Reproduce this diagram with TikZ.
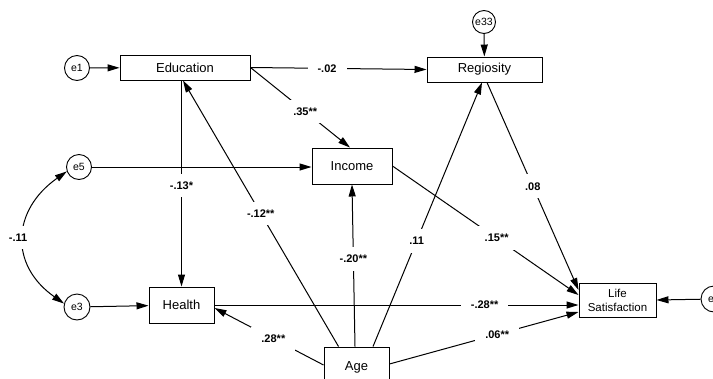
\documentclass[tikz,border=0pt]{standalone}
\usepackage{fontspec}
\setmainfont{Liberation Sans}
\usetikzlibrary{arrows.meta}
\begin{document}
\begin{tikzpicture}[x=1pt,y=-1pt,
  box/.style={draw, line width=0.95pt, inner sep=0pt, font=\fontsize{13}{15}\selectfont},
  err/.style={circle, draw, line width=0.9pt, minimum size=25pt, inner sep=0pt, font=\fontsize{10.5}{12}\selectfont},
  arr/.style={-{Triangle[length=12pt,width=7pt]}, line width=1pt},
  twoway/.style={{Triangle[length=12pt,width=7pt]}-{Triangle[length=12pt,width=7pt]}, line width=1pt},
  coef/.style={fill=white, font=\bfseries\fontsize{11}{13}\selectfont, inner xsep=10pt, inner ysep=8pt}
]
\useasboundingbox (0,0) rectangle (713,378);
\clip (0,0) rectangle (713,378);

% observed variables
\node[box, minimum width=130pt, minimum height=25pt] (edu) at (185,67.5) {Education};
\node[box, minimum width=115pt, minimum height=25pt] (reg) at (484.5,69.5) {Regiosity};
\node[box, minimum width=80pt, minimum height=36pt] (inc) at (352,166) {Income};
\node[box, minimum width=65pt, minimum height=36pt] (hea) at (181.5,305) {Health};
\node[box, minimum width=65pt, minimum height=40pt] (age) at (356.5,367) {Age};
\node[box, minimum width=77pt, minimum height=34pt, align=center,
      font=\fontsize{11.5}{14}\selectfont] (ls) at (617.5,300) {Life\\Satisfaction};

% error terms
\node[err] (e1) at (77,68) {e1};
\node[err, minimum size=23pt] (e33) at (484,22) {e33};
\node[err] (e5) at (79,167) {e5};
\node[err, minimum size=26pt] (e3) at (77,307) {e3};
\node[err, minimum size=26pt] (e2) at (714,299) {e\phantom{2}};

% residual paths
\draw[arr] (e1) -- (edu);
\draw[arr] (e33) -- (reg);
\draw[arr] (e5) -- (e5 -| inc.west);
\draw[arr] (e3) -- (hea);
\draw[arr] (e2) -- (ls.east);

% structural paths
\draw[arr] (edu.east) -- node[coef, pos=.435] {-.02} (reg.west);
\draw[arr] (edu.east) -- node[coef, pos=.55] {.35**} ([xshift=-2pt]inc.north);
\draw[arr] (edu.south -| hea.north) -- node[coef, pos=.51] {-.13*} (hea.north);
\draw[arr] ([xshift=15pt]age.north west) -- node[coef, pos=.5] {-.12**} ([xshift=-2pt]edu.south);
\draw[arr] ([xshift=-1.5pt]age.north) -- node[coef, pos=.54] {-.20**} (inc.south);
\draw[arr] ([xshift=16.5pt]age.north) -- node[coef, pos=.4] {.11} ([xshift=-2.5pt]reg.south);
\draw[arr] ([xshift=2.5pt]reg.south) -- node[coef, pos=.5] {.08} ([yshift=10pt]ls.west);
\draw[arr] (inc.east) -- node[coef, pos=.56] {.15**} ([yshift=5pt]ls.west);
\draw[arr] (hea.east) -- node[coef, pos=.742] {-.28**} (hea.east -| ls.west);
\draw[arr] ([yshift=3pt]age.east) -- node[coef, pos=.57] {.06**} ([yshift=-12pt]ls.west);
\draw[arr] ([yshift=2pt]age.west) -- node[coef, pos=.46] {.28**} ([yshift=-3pt]hea.east);

% error covariance
\draw[twoway] (e5.200) to[out=215, in=145, looseness=1.3]
  node[coef, xshift=-6pt] {-.11} (e3.165);
\end{tikzpicture}
\end{document}
